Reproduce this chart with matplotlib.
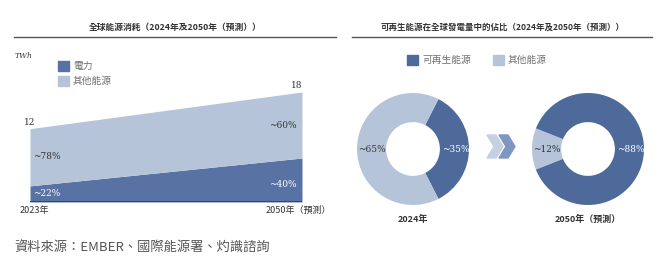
import matplotlib
matplotlib.use('Agg')
import matplotlib.pyplot as plt
from matplotlib.patches import Polygon, Rectangle

plt.rcParams['font.family'] = ['Noto Sans CJK TC', 'DejaVu Sans']

# data
years = [0, 1]
year_labels = ['2023年', '2050年（預測）']
total = [12, 18]
elec_share = [0.22, 0.40]
other_share = [0.78, 0.60]
area_names = ['電力', '其他能源']

donut_years = ['2024年', '2050年（預測）']
renew = [35, 88]
other = [65, 12]
donut_names = ['可再生能源', '其他能源']

DARK = '#5873a3'
DDARK = '#4d6a9a'
LIGHT = '#b6c4d9'
TXT = '#333333'

W, H = 660, 264
fig = plt.figure(figsize=(6.6, 2.64), dpi=100)


def fx(x):
    return x / W


def fy(y):
    return 1 - y / H


# ---------- left: stacked area ----------
fig.text(fx(175), fy(27), '全球能源消耗（2024年及2050年（預測））', ha='center', va='center',
         fontsize=6.3, fontweight='bold', color=TXT)
fig.add_artist(plt.Line2D([fx(14), fx(336)], [fy(37), fy(37)], color='#555555', lw=1.0))
fig.text(fx(15), fy(56), 'TWh', fontsize=5.5, style='italic', color=TXT, va='center',
         family='DejaVu Serif')

ax = fig.add_axes([fx(30), fy(202), fx(302) - fx(30), fy(92) - fy(202)])
elec = [t * s for t, s in zip(total, elec_share)]
ax.fill_between(years, 0, elec, color=DARK, lw=0)
ax.fill_between(years, elec, total, color=LIGHT, lw=0)
ax.axhline(0, color='#2f3f5f', lw=1.2)
ax.set_xlim(0, 1)
ax.set_ylim(0, 18)
ax.axis('off')

ax.text(0, total[0] + 0.3, str(total[0]), ha='center', va='bottom', fontsize=6.5,
        color=TXT, family='DejaVu Serif')
ax.text(1, total[1] + 0.3, str(total[1]), ha='right', va='bottom', fontsize=6.5,
        color=TXT, family='DejaVu Serif')
ax.text(0.01, 7.4, '~%d%%' % round(other_share[0] * 100), ha='left', va='center',
        fontsize=6.5, color=TXT, family='DejaVu Serif')
ax.text(0.01, 1.4, '~%d%%' % round(elec_share[0] * 100), ha='left', va='center',
        fontsize=6.5, color='white', family='DejaVu Serif')
ax.text(0.98, 12.6, '~%d%%' % round(other_share[1] * 100), ha='right', va='center',
        fontsize=6.5, color=TXT, family='DejaVu Serif')
ax.text(0.98, 2.8, '~%d%%' % round(elec_share[1] * 100), ha='right', va='center',
        fontsize=6.5, color='white', family='DejaVu Serif')

fig.text(fx(20), fy(210), year_labels[0], ha='left', va='center', fontsize=6.5, color=TXT)
fig.text(fx(331), fy(210), year_labels[1], ha='right', va='center', fontsize=6.5, color=TXT)

for i, (name, c) in enumerate(zip(area_names, [DARK, LIGHT])):
    y = 66 + i * 15
    fig.add_artist(Rectangle((fx(58), fy(y + 5)), fx(11), fy(y - 5) - fy(y + 5), color=c,
                             transform=fig.transFigure))
    fig.text(fx(73), fy(y), name, ha='left', va='center', fontsize=7, color='#707070')

# ---------- right: donuts ----------
fig.text(fx(503), fy(27), '可再生能源在全球發電量中的佔比（2024年及2050年（預測））', ha='center',
         va='center', fontsize=6.1, fontweight='bold', color=TXT)
fig.add_artist(plt.Line2D([fx(352), fx(652)], [fy(37), fy(37)], color='#555555', lw=1.0))

for (x0, name, c) in [(407, donut_names[0], DDARK), (493, donut_names[1], LIGHT)]:
    fig.add_artist(Rectangle((fx(x0), fy(65)), fx(11), fy(55) - fy(65), color=c,
                             transform=fig.transFigure))
    fig.text(fx(x0 + 15), fy(60), name, ha='left', va='center', fontsize=7, color='#707070')

centers = [413, 588]
R = 56
for k, cx in enumerate(centers):
    dax = fig.add_axes([fx(cx - R), fy(149 + R), 2 * R / W, 2 * R / H])
    if k == 0:
        vals = [renew[k], other[k]]
        cols = [DDARK, LIGHT]
        start = renew[k] / 100 * 180
    else:
        vals = [other[k], renew[k]]
        cols = [LIGHT, DDARK]
        start = 180 + other[k] / 100 * 180
    dax.pie(vals, colors=cols, startangle=start, counterclock=False, radius=1,
            wedgeprops=dict(width=0.52, edgecolor='none'))
    dax.set_xlim(-1, 1)
    dax.set_ylim(-1, 1)
    dax.set_aspect('auto')
    dax.axis('off')
    dax.text(0.76, 0, '~%d%%' % renew[k], ha='center', va='center', fontsize=6.5,
             color='white', family='DejaVu Serif')
    dax.text(-0.74, 0, '~%d%%' % other[k], ha='center', va='center', fontsize=6.5,
             color=TXT, family='DejaVu Serif')
    fig.text(fx(cx), fy(219), donut_years[k], ha='center', va='center', fontsize=6.5,
             fontweight='bold', color=TXT)

# chevron arrow
for x0, c in [(487, '#c5d1e3'), (499, '#7d97c2')]:
    pts = [(x0, 135), (x0 + 9, 135), (x0 + 16, 146.5), (x0 + 9, 158), (x0, 158), (x0 + 7, 146.5)]
    fig.add_artist(Polygon([(fx(a), fy(b)) for a, b in pts], closed=True, color=c,
                           transform=fig.transFigure))

# source
fig.text(fx(14), fy(247), '資料來源：EMBER、國際能源署、灼識諮詢', ha='left', va='center',
         fontsize=9.5, color='#555555', style='italic')

fig.savefig('out.png', dpi=100)
